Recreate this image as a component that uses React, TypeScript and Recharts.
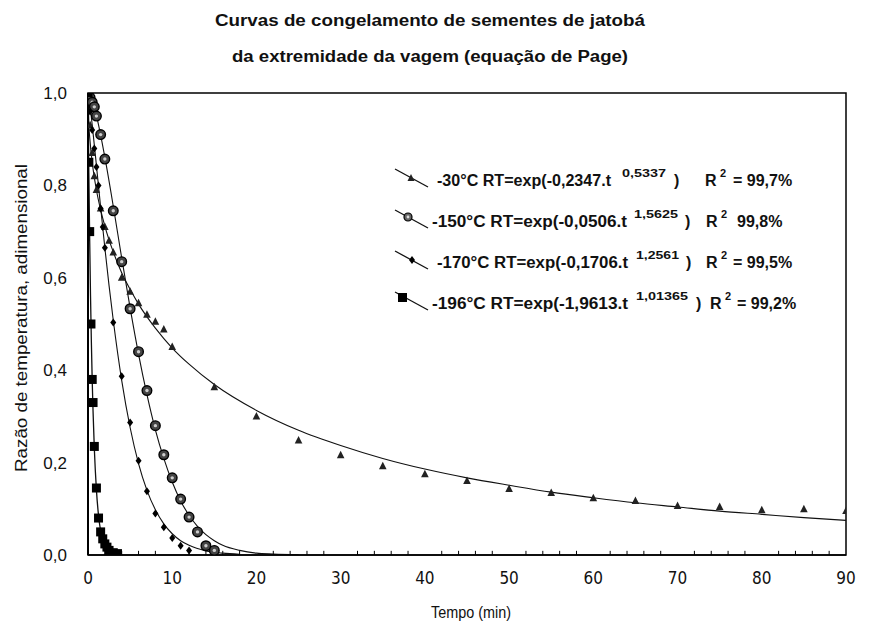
import React from 'react';
import { ComposedChart, Line, Scatter, XAxis, YAxis, ReferenceArea, ReferenceLine } from 'recharts';

// ---------- axis ticks ----------
const X_TICKS = [0, 10, 20, 30, 40, 50, 60, 70, 80, 90];
const Y_TICKS = [0, 0.2, 0.4, 0.6, 0.8, 1.0];
const Y_TICK_LABELS = ['0,0', '0,2', '0,4', '0,6', '0,8', '1,0'];
const MINOR_TICKS = [2, 4, 6, 8, 12, 14, 16, 18, 22, 24, 26, 28, 32, 34, 36, 38, 42, 44, 46, 48, 52, 54, 56, 58, 62, 64, 66, 68, 72, 74, 76, 78, 82, 84, 86, 88];

const P30_T = [0, 0.25, 0.5, 0.75, 1, 1.5, 2, 2.5, 3, 4, 5, 6, 7, 8, 9, 10, 15, 20, 25, 30, 35, 40, 45, 50, 55, 60, 65, 70, 75, 80, 85, 90];
const P30_V = [1.0, 0.93, 0.87, 0.82, 0.79, 0.75, 0.71, 0.68, 0.655, 0.60, 0.57, 0.545, 0.52, 0.505, 0.488, 0.45, 0.363, 0.300, 0.248, 0.216, 0.192, 0.175, 0.160, 0.143, 0.134, 0.123, 0.117, 0.106, 0.104, 0.097, 0.099, 0.095];

const P150_T = [0, 0.25, 0.5, 0.75, 1, 1.5, 2, 3, 4, 5, 6, 7, 8, 9, 10, 11, 12, 13, 14, 15];
const P150_V = [1.0, 0.99, 0.98, 0.97, 0.95, 0.91, 0.857, 0.745, 0.635, 0.533, 0.44, 0.356, 0.28, 0.217, 0.167, 0.121, 0.082, 0.05, 0.02, 0.01];

const P170_T = [0, 0.25, 0.5, 0.75, 1, 1.25, 1.5, 1.75, 2, 3, 4, 5, 6, 7, 8, 9, 10, 11, 12];
const P170_V = [1.0, 0.96, 0.92, 0.88, 0.84, 0.80, 0.75, 0.71, 0.665, 0.503, 0.387, 0.287, 0.204, 0.138, 0.09, 0.06, 0.037, 0.02, 0.01];

const P196_T = [0, 0.1, 0.2, 0.35, 0.5, 0.6, 0.75, 1, 1.25, 1.5, 1.75, 2, 2.25, 2.5, 3, 3.5];
const P196_V = [1.0, 0.85, 0.70, 0.50, 0.38, 0.33, 0.235, 0.145, 0.08, 0.05, 0.035, 0.024, 0.017, 0.01, 0.005, 0.003];

// ---------- fitted curves ----------
const C30_T = [0, 0.1, 0.25, 0.5, 1, 1.5, 2, 3, 4, 5, 6, 8, 10, 12, 15, 20, 25, 30, 35, 40, 45, 50, 55, 60, 65, 70, 75, 80, 85, 90];
const C30_V = [1.0, 0.934, 0.894, 0.85, 0.79, 0.747, 0.712, 0.656, 0.611, 0.575, 0.543, 0.491, 0.448, 0.413, 0.369, 0.313, 0.270, 0.237, 0.209, 0.186, 0.167, 0.151, 0.136, 0.124, 0.113, 0.104, 0.095, 0.088, 0.081, 0.075];

const C150_T = [0, 0.5, 1, 1.5, 2, 3, 4, 5, 6, 7, 8, 9, 10, 11, 12, 13, 14, 15, 16, 18, 20, 22, 25];
const C150_V = [1.0, 0.983, 0.951, 0.909, 0.861, 0.755, 0.643, 0.535, 0.435, 0.347, 0.271, 0.209, 0.158, 0.117, 0.086, 0.062, 0.044, 0.031, 0.021, 0.010, 0.004, 0.002, 0.0004];

const C170_T = [0, 0.25, 0.5, 1, 1.5, 2, 2.5, 3, 4, 5, 6, 7, 8, 9, 10, 11, 12, 14, 16, 18];
const C170_V = [1.0, 0.97, 0.931, 0.843, 0.753, 0.665, 0.583, 0.508, 0.378, 0.276, 0.198, 0.14, 0.098, 0.0675, 0.046, 0.031, 0.021, 0.009, 0.004, 0.0016];

const C196_T = [0, 0.05, 0.1, 0.2, 0.3, 0.4, 0.5, 0.6, 0.75, 1, 1.25, 1.5, 1.75, 2, 2.5, 3, 4];
const C196_V = [1.0, 0.91, 0.827, 0.681, 0.56, 0.461, 0.377, 0.311, 0.231, 0.141, 0.0855, 0.052, 0.0315, 0.019, 0.007, 0.0027, 0.0004];

const zip = (t: number[], v: number[]) => t.map((x, i) => ({ x, y: v[i] }));

const pts30 = zip(P30_T, P30_V);
const pts150 = zip(P150_T, P150_V);
const pts170 = zip(P170_T, P170_V);
const pts196 = zip(P196_T, P196_V);
const cur30 = zip(C30_T, C30_V);
const cur150 = zip(C150_T, C150_V);
const cur170 = zip(C170_T, C170_V);
const cur196 = zip(C196_T, C196_V);

const NARROW = '"Liberation Sans Narrow", "DejaVu Sans Condensed", "Liberation Sans", Arial, sans-serif';
const SANS = '"Liberation Sans", Arial, sans-serif';

const Tri = (p: any) => {
  const { cx, cy } = p;
  return <path d={`M${cx},${cy - 4.5}L${cx + 3.8},${cy + 3}L${cx - 3.8},${cy + 3}Z`} fill="#222" />;
};
const Ring = (p: any) => {
  const { cx, cy } = p;
  return (
    <g>
      <circle cx={cx} cy={cy} r={4.8} fill="#444" stroke="#000" strokeWidth={1.4} />
      <circle cx={cx} cy={cy} r={1.7} fill="#ccc" />
    </g>
  );
};
const Dia = (p: any) => {
  const { cx, cy } = p;
  return <path d={`M${cx},${cy - 4}L${cx + 3},${cy}L${cx},${cy + 4}L${cx - 3},${cy}Z`} fill="#000" />;
};
const Sq = (p: any) => {
  const { cx, cy } = p;
  return <rect x={cx - 4.5} y={cy - 4.5} width={9} height={9} fill="#000" />;
};

const LEGEND = [
  { main: '-30°C RT=exp(-0,2347.t', mw: 174, mx: 437, sup: '0,5337', sx: 622, sw: 44, close: 672, r: 705, r2: 720, tail: '= 99,7%', tx: 733, y: 186, icon: 'tri' },
  { main: '-150°C RT=exp(-0,0506.t', mw: 195, mx: 432, sup: '1,5625', sx: 634, sw: 44, close: 683, r: 706, r2: 721, tail: '99,8%', tx: 737, y: 227, icon: 'ring' },
  { main: '-170°C RT=exp(-0,1706.t', mw: 191, mx: 437, sup: '1,2561', sx: 636, sw: 43, close: 684, r: 706, r2: 721, tail: '= 99,5%', tx: 733, y: 268, icon: 'dia' },
  { main: '-196°C RT=exp(-1,9613.t', mw: 196, mx: 432, sup: '1,01365', sx: 636, sw: 52, close: 694, r: 710, r2: 725, tail: '= 99,2%', tx: 737, y: 309, icon: 'sq' },
];

const LegendIcon = ({ kind, y }: { kind: string; y: number }) => {
  const cy = y - 8;
  const x0 = 395;
  const x1 = 428;
  return (
    <g>
      <line x1={x0} y1={cy - 9} x2={x1} y2={cy + 9} stroke="#111" strokeWidth={1.3} />
      {kind === 'tri' && <path d={`M411,${cy - 4}L414.5,${cy + 3}L407.5,${cy + 3}Z`} fill="#222" />}
      {kind === 'ring' && (
        <g>
          <circle cx={408} cy={cy - 2} r={4} fill="#666" stroke="#000" strokeWidth={1.2} />
          <circle cx={408} cy={cy - 2} r={1.4} fill="#ddd" />
        </g>
      )}
      {kind === 'dia' && <path d={`M412,${cy - 4}L415,${cy}L412,${cy + 4}L409,${cy}Z`} fill="#000" />}
      {kind === 'sq' && <rect x={398} y={cy - 8} width={9} height={9} fill="#000" />}
    </g>
  );
};

export default function App() {
  const W = 869;
  const H = 634;
  return (
    <div style={{ position: 'absolute', left: 0, top: 0, width: W, height: H, background: '#fff' }}>
      <ComposedChart width={W} height={H} margin={{ top: 93, right: 23, bottom: 39, left: 28 }}>
        <XAxis
          type="number"
          dataKey="x"
          domain={[0, 90]}
          ticks={X_TICKS}
          allowDataOverflow
          height={40}
          tickLine={false}
          tickSize={6}
          tickMargin={11}
          axisLine={{ stroke: '#000', strokeWidth: 1.5 }}
          tick={{ fontSize: 17, fill: '#111', fontFamily: NARROW }}
        />
        <YAxis
          type="number"
          domain={[0, 1]}
          ticks={Y_TICKS}
          allowDataOverflow
          width={60}
          tickLine={false}
          tickSize={6}
          tickMargin={15}
          axisLine={{ stroke: '#000', strokeWidth: 2 }}
          tickFormatter={(v: number) => Y_TICK_LABELS[Y_TICKS.indexOf(v)] ?? String(v)}
          tick={{ fontSize: 17, fill: '#111', fontFamily: SANS }}
        />
        <ReferenceArea x1={0} x2={90} y1={0} y2={1} fill="none" stroke="#000" strokeWidth={1.5} ifOverflow="visible" />
        {MINOR_TICKS.map((t) => (
          <ReferenceLine key={'m' + t} segment={[{ x: t, y: 0 }, { x: t, y: 0.009 }]} stroke="#000" strokeWidth={1} />
        ))}
        <Line data={cur30} dataKey="y" type="monotone" dot={false} stroke="#111" strokeWidth={1.1} isAnimationActive={false} />
        <Line data={cur150} dataKey="y" type="monotone" dot={false} stroke="#111" strokeWidth={1.1} isAnimationActive={false} />
        <Line data={cur170} dataKey="y" type="monotone" dot={false} stroke="#111" strokeWidth={1.1} isAnimationActive={false} />
        <Line data={cur196} dataKey="y" type="monotone" dot={false} stroke="#111" strokeWidth={1.3} isAnimationActive={false} />
        <Scatter data={pts30} dataKey="y" shape={Tri} isAnimationActive={false} />
        <Scatter data={pts150} dataKey="y" shape={Ring} isAnimationActive={false} />
        <Scatter data={pts170} dataKey="y" shape={Dia} isAnimationActive={false} />
        <Scatter data={pts196} dataKey="y" shape={Sq} isAnimationActive={false} />
      </ComposedChart>
      <svg width={W} height={H} style={{ position: 'absolute', left: 0, top: 0, pointerEvents: 'none' }}>
        <text x={430} y={26} textAnchor="middle" fontFamily={SANS} fontWeight="bold" fontSize={16} fill="#111" textLength={430} lengthAdjust="spacingAndGlyphs">
          Curvas de congelamento de sementes de jatobá
        </text>
        <text x={430} y={62} textAnchor="middle" fontFamily={SANS} fontWeight="bold" fontSize={16} fill="#111" textLength={396} lengthAdjust="spacingAndGlyphs">
          da extremidade da vagem (equação de Page)
        </text>
        <text transform="translate(27,318) rotate(-90)" textAnchor="middle" fontFamily={SANS} fontSize={17} fill="#111" textLength={308} lengthAdjust="spacingAndGlyphs">
          Razão de temperatura, adimensional
        </text>
        <text x={471} y={618} textAnchor="middle" fontFamily={SANS} fontSize={17} fill="#111" textLength={80} lengthAdjust="spacingAndGlyphs">
          Tempo (min)
        </text>
        {LEGEND.map((e) => (
          <g key={e.main}>
            <LegendIcon kind={e.icon} y={e.y} />
            <text x={e.mx} y={e.y} fontFamily={SANS} fontWeight="bold" fontSize={16} fill="#111" textLength={e.mw} lengthAdjust="spacingAndGlyphs">{e.main}</text>
            <text x={e.sx} y={e.y - 9} fontFamily={SANS} fontWeight="bold" fontSize={11} fill="#111" textLength={e.sw} lengthAdjust="spacingAndGlyphs">{e.sup}</text>
            <text x={e.close + 2} y={e.y} fontFamily={SANS} fontWeight="bold" fontSize={16} fill="#111">)</text>
            <text x={e.r} y={e.y} fontFamily={SANS} fontWeight="bold" fontSize={16} fill="#111">R</text>
            <text x={e.r2} y={e.y - 9} fontFamily={SANS} fontWeight="bold" fontSize={11} fill="#111">2</text>
            <text x={e.tx} y={e.y} fontFamily={SANS} fontWeight="bold" fontSize={16} fill="#111">{e.tail}</text>
          </g>
        ))}
      </svg>
    </div>
  );
}
